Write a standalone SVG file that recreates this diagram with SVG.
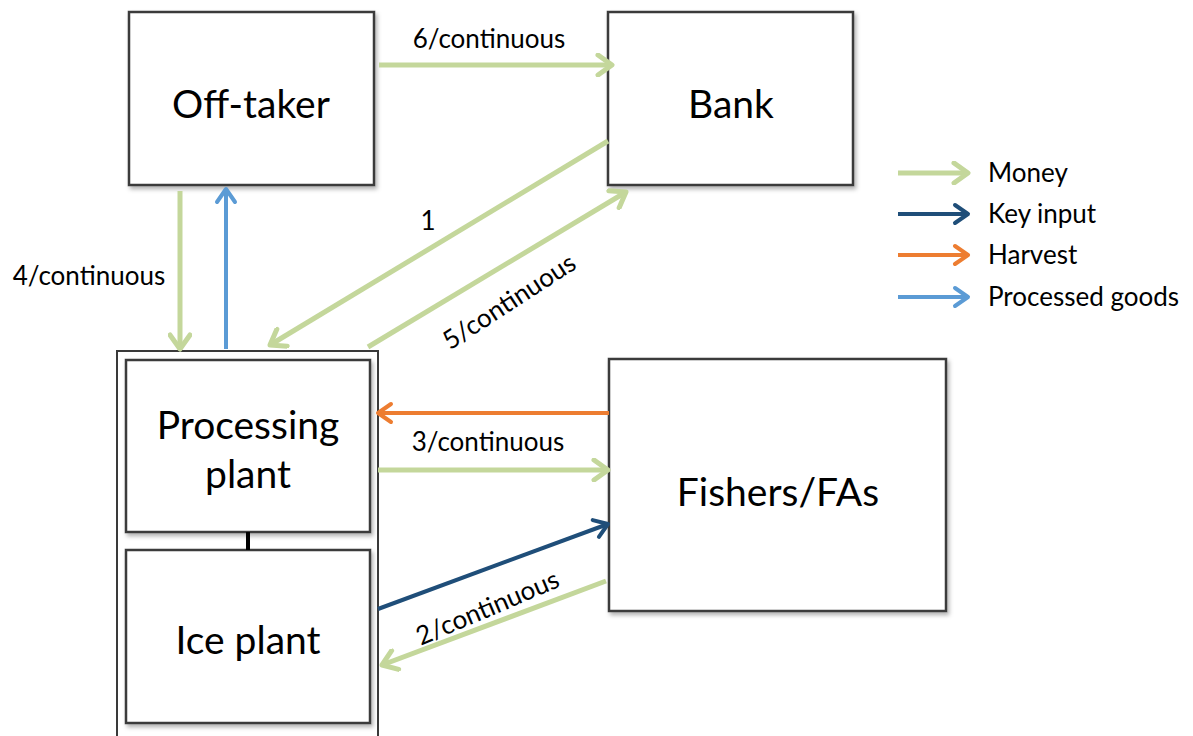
<svg xmlns="http://www.w3.org/2000/svg" width="1193" height="736" viewBox="0 0 1193 736">
  <style>
    .box { fill: #ffffff; stroke: #3a3a3a; stroke-width: 2.5; filter: url(#shadow); }
    .frame { fill: #ffffff; stroke: #3a3a3a; stroke-width: 2; }
    .node { font-family: Lato, "Open Sans", sans-serif; font-size: 39px; fill: #000; text-anchor: middle; }
    .lbl { font-family: Lato, "Open Sans", sans-serif; font-size: 26px; fill: #000; }
    .money { stroke: #c4d79b; stroke-width: 5; fill: none; marker-end: url(#mGreen); }
    .key { stroke: #1f4e79; stroke-width: 4; fill: none; marker-end: url(#mNavy); }
    .harvest { stroke: #ed7d31; stroke-width: 4; fill: none; marker-end: url(#mOrange); }
    .goods { stroke: #5b9bd5; stroke-width: 4; fill: none; marker-end: url(#mBlue); }
  </style>
  <defs>
    <filter id="shadow" x="-5%" y="-5%" width="115%" height="115%">
      <feDropShadow dx="2" dy="3" stdDeviation="2" flood-color="#000" flood-opacity="0.3"/>
    </filter>
    <marker id="mGreen" viewBox="0 0 24 24" refX="21" refY="12" markerWidth="24" markerHeight="24" markerUnits="userSpaceOnUse" orient="auto">
      <path d="M7,2 L21,12 L7,22" fill="none" stroke="#c4d79b" stroke-width="5" stroke-linecap="round" stroke-linejoin="round"/>
    </marker>
    <marker id="mNavy" viewBox="0 0 24 24" refX="21" refY="12" markerWidth="24" markerHeight="24" markerUnits="userSpaceOnUse" orient="auto">
      <path d="M8,3 L21,12 L8,21" fill="none" stroke="#1f4e79" stroke-width="4" stroke-linecap="round" stroke-linejoin="round"/>
    </marker>
    <marker id="mOrange" viewBox="0 0 24 24" refX="21" refY="12" markerWidth="24" markerHeight="24" markerUnits="userSpaceOnUse" orient="auto">
      <path d="M8,3 L21,12 L8,21" fill="none" stroke="#ed7d31" stroke-width="4" stroke-linecap="round" stroke-linejoin="round"/>
    </marker>
    <marker id="mBlue" viewBox="0 0 24 24" refX="21" refY="12" markerWidth="24" markerHeight="24" markerUnits="userSpaceOnUse" orient="auto">
      <path d="M8,3 L21,12 L8,21" fill="none" stroke="#5b9bd5" stroke-width="4" stroke-linecap="round" stroke-linejoin="round"/>
    </marker>
  </defs>

  <rect width="1193" height="736" fill="#ffffff"/>

  <!-- nodes -->
  <g id="offtaker">
    <rect class="box" x="129" y="12" width="245" height="173"/>
    <text class="node" x="251" y="118">Off-taker</text>
  </g>
  <g id="bank">
    <rect class="box" x="608" y="12" width="245" height="173"/>
    <text class="node" x="731" y="118">Bank</text>
  </g>
  <g id="plant-group">
    <rect class="frame" x="117" y="351" width="261" height="400"/>
  </g>
  <g id="processing">
    <rect class="box" x="126" y="360" width="244" height="172"/>
    <text class="node" x="248" y="439">Processing</text>
    <text class="node" x="248" y="488">plant</text>
  </g>
  <g id="ice">
    <rect class="box" x="126" y="550" width="244" height="173"/>
    <text class="node" x="248" y="654">Ice plant</text>
  </g>
  <g id="fishers">
    <rect class="box" x="609" y="359" width="337" height="252"/>
    <text class="node" x="778" y="506">Fishers/FAs</text>
  </g>

  <!-- connectors -->
  <g id="connectors">
    <line x1="248" y1="532" x2="248" y2="550" stroke="#000" stroke-width="4"/>
    <line class="money" x1="379" y1="65" x2="612" y2="65"/>
    <line class="money" x1="180" y1="191" x2="180" y2="349"/>
    <line class="goods" x1="226" y1="349" x2="226" y2="189"/>
    <line class="money" x1="608" y1="141" x2="270" y2="345"/>
    <line class="money" x1="368" y1="347" x2="626" y2="192"/>
    <line class="harvest" x1="609" y1="413" x2="378" y2="413"/>
    <line class="money" x1="378" y1="470" x2="608" y2="470"/>
    <line class="key" x1="378" y1="609" x2="608" y2="524"/>
    <line class="money" x1="606" y1="581" x2="382" y2="665"/>
  </g>

  <!-- connector labels -->
  <g id="labels">
    <text class="lbl" x="489" y="48" text-anchor="middle">6/continuous</text>
    <text class="lbl" x="89" y="285" text-anchor="middle">4/continuous</text>
    <text class="lbl" x="428" y="230" text-anchor="middle">1</text>
    <text class="lbl" x="0" y="0" text-anchor="middle" transform="translate(514,309) rotate(-33)">5/continuous</text>
    <text class="lbl" x="488" y="451" text-anchor="middle">3/continuous</text>
    <text class="lbl" x="0" y="0" text-anchor="middle" transform="translate(491,616) rotate(-23)">2/continuous</text>
  </g>

  <!-- legend -->
  <g id="legend">
    <line class="money" x1="898" y1="173" x2="968" y2="173"/>
    <line class="key" x1="898" y1="214" x2="968" y2="214"/>
    <line class="harvest" x1="898" y1="255" x2="968" y2="255"/>
    <line class="goods" x1="898" y1="297" x2="968" y2="297"/>
    <text class="lbl" x="988" y="182">Money</text>
    <text class="lbl" x="988" y="223">Key input</text>
    <text class="lbl" x="988" y="264">Harvest</text>
    <text class="lbl" x="988" y="306">Processed goods</text>
  </g>
</svg>
